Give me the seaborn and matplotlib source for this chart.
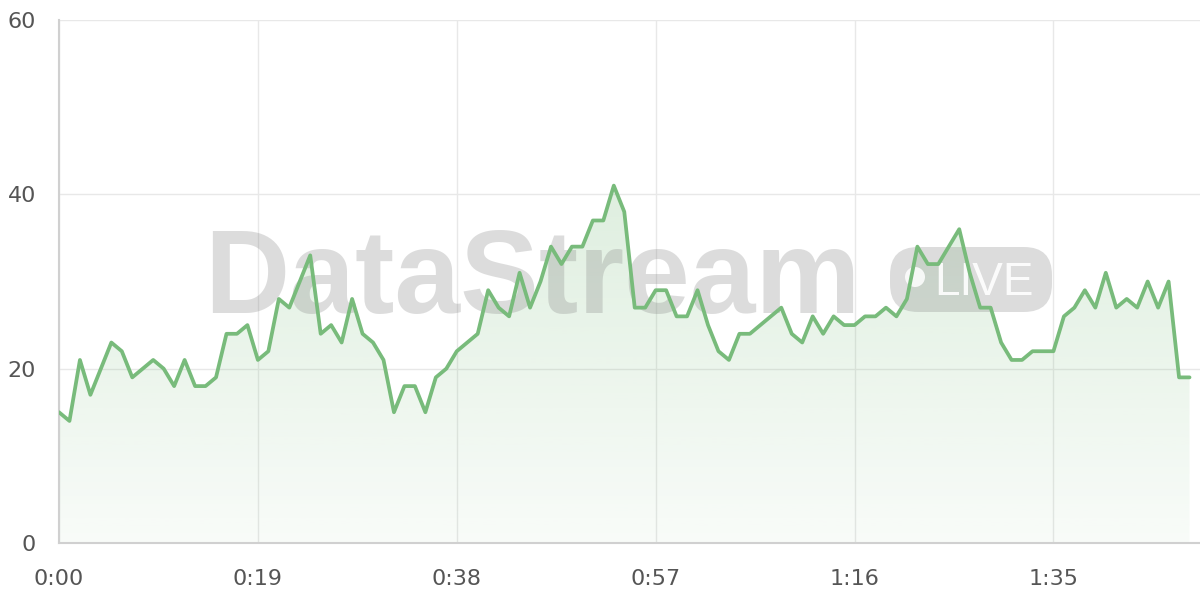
import numpy as np
import pandas as pd
import matplotlib
matplotlib.use("Agg")
import matplotlib.pyplot as plt
import seaborn as sns
from matplotlib.patches import FancyBboxPatch, Circle
from matplotlib.ticker import FuncFormatter

# ------------------------------------------------------------
# data: one reading per second
# ------------------------------------------------------------
values = [
    15, 14, 21, 17, 20, 23, 22, 19, 20, 21, 20, 18, 21, 18, 18, 19, 24, 24, 25, 21,
    22, 28, 27, 30, 33, 24, 25, 23, 28, 24, 23, 21, 15, 18, 18, 15, 19, 20, 22, 23,
    24, 29, 27, 26, 31, 27, 30, 34, 32, 34, 34, 37, 37, 41, 38, 27, 27, 29, 29, 26,
    26, 29, 25, 22, 21, 24, 24, 25, 26, 27, 24, 23, 26, 24, 26, 25, 25, 26, 26, 27,
    26, 28, 34, 32, 32, 34, 36, 31, 27, 27, 23, 21, 21, 22, 22, 22, 26, 27, 29, 27,
    31, 27, 28, 27, 30, 27, 30, 19, 19,
]
seconds = list(range(len(values)))
x_ticks = [0, 19, 38, 57, 76, 95]
y_ticks = [0, 20, 40, 60]

df = pd.DataFrame({"t": seconds, "value": values})

LINE = "#78bb7b"
GRID = "#e8e8e8"
AXIS = "#d0d0d0"
TEXT = "#555555"

sns.set_theme(style="white")
plt.rcParams["font.family"] = ["DejaVu Sans"]

fig = plt.figure(figsize=(12, 6), dpi=100)
ax = fig.add_axes([59 / 1200, 57 / 600, 1141 / 1200, 523 / 600])

# gradient area under the line
poly = ax.fill_between(df["t"], df["value"], 0, color="none", lw=0)
top = max(values)
n = 256
rgba = np.zeros((n, 1, 4))
rgba[:, 0, :3] = matplotlib.colors.to_rgb(LINE)
rgba[:, 0, 3] = np.linspace(0.24, 0.05, n)
img = ax.imshow(rgba, aspect="auto", extent=[0, seconds[-1], 0, top],
                origin="upper", zorder=1)
img.set_clip_path(poly.get_paths()[0], transform=ax.transData)

# watermark (behind the line)
tr = fig.dpi_scale_trans
ax.text(2.04, 2.87, "DataStream", transform=tr, fontsize=85, fontweight="bold",
        family="Liberation Sans", color="#808080", alpha=0.27,
        ha="left", va="baseline", zorder=2)
badge = FancyBboxPatch((8.90, 2.88), 1.62, 0.65, transform=tr,
                       boxstyle="round,pad=0,rounding_size=0.28",
                       facecolor="#808080", edgecolor="none", alpha=0.27, zorder=2)
ax.add_patch(badge)
ax.add_patch(Circle((9.15, 3.23), 0.10, transform=tr, facecolor="white",
                    edgecolor="none", alpha=0.85, zorder=2.1))
ax.text(9.34, 3.05, "LIVE", transform=tr, fontsize=33, family="Liberation Sans",
        color="white", alpha=0.9, ha="left", va="baseline", zorder=2.1)

sns.lineplot(data=df, x="t", y="value", color=LINE, linewidth=2.7, ax=ax, zorder=3)

ax.set_xlim(0, 109)
ax.set_ylim(0, 60)
ax.set_xticks(x_ticks)
ax.set_yticks(y_ticks)
ax.xaxis.set_major_formatter(FuncFormatter(lambda s, _: f"{int(s) // 60}:{int(s) % 60:02d}"))
ax.set_xlabel("")
ax.set_ylabel("")

ax.grid(True, color=GRID, linewidth=1)
ax.set_axisbelow(True)
for side in ["top", "right"]:
    ax.spines[side].set_visible(False)
for side in ["left", "bottom"]:
    ax.spines[side].set_color(AXIS)
    ax.spines[side].set_linewidth(1.5)

ax.tick_params(axis="x", length=11.5, width=1, color=GRID, pad=7,
               labelsize=16, labelcolor=TEXT)
ax.tick_params(axis="y", length=11.5, width=1, color=GRID, pad=5,
               labelsize=16, labelcolor=TEXT)

fig.savefig("out.png", dpi=100)
